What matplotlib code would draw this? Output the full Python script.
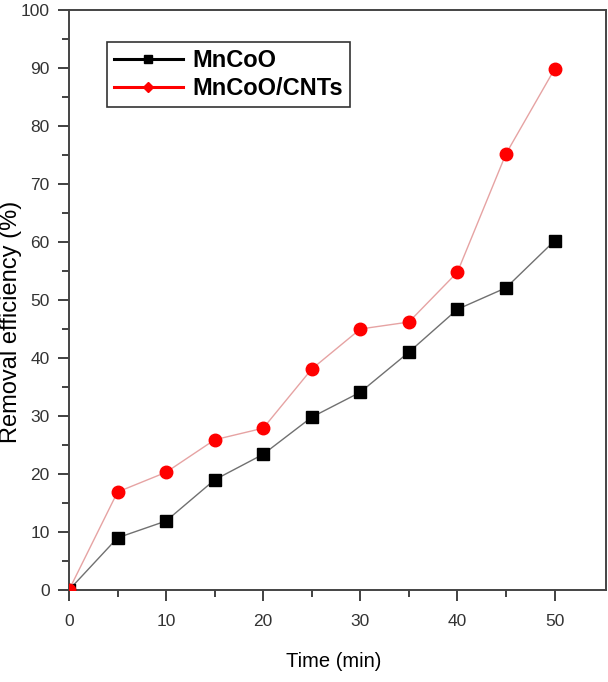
import matplotlib.pyplot as plt
from matplotlib.lines import Line2D

time_min = [0, 5, 10, 15, 20, 25, 30, 35, 40, 45, 50]
mncoo = [0, 9.0, 11.9, 19.0, 23.4, 29.8, 34.1, 41.0, 48.4, 52.1, 60.2]
mncoo_cnts = [0, 16.9, 20.3, 25.9, 27.9, 38.1, 45.0, 46.2, 54.8, 75.2, 89.8]

plt.rcParams['font.family'] = ['Liberation Sans', 'DejaVu Sans']

fig = plt.figure(figsize=(6.08, 6.82), dpi=100)
# axes box: x 69..606 px, y 10..590 px
ax = fig.add_axes([69 / 608, 92 / 682, 537 / 608, 580 / 682])

ax.plot(time_min, mncoo, color="#707070", lw=1.0, marker="s", ms=8,
        mfc="black", mec="black", zorder=3)
ax.plot(time_min, mncoo_cnts, color="#e6a3a3", lw=1.0, marker="o", ms=9,
        mfc="red", mec="red", zorder=3)

ax.set_xlim(0, 55.3)
ax.set_ylim(0, 100)
ax.set_xticks(range(0, 51, 10))
ax.set_xticks(range(0, 51, 5), minor=True)
ax.set_yticks(range(0, 101, 10))
ax.set_yticks(range(0, 101, 5), minor=True)
ax.tick_params(which="major", direction="out", length=8, width=1.3, labelsize=12.5,
               colors="#333333")
ax.tick_params(axis="x", which="major", pad=9)
ax.tick_params(axis="y", which="major", pad=6)
ax.tick_params(which="minor", direction="out", length=5, width=1.3, colors="#333333")
for sp in ax.spines.values():
    sp.set_linewidth(1.4)
    sp.set_color("#444444")

ax.set_xlabel("Time (min)", fontsize=14.5)
ax.xaxis.set_label_coords((334 - 69) / 537, -(652 - 590) / 580)
ax.set_ylabel("Removal efficiency (%)", fontsize=17)
ax.yaxis.set_label_coords(-(69 - 22) / 537, (590 - 322) / 580)

handles = [
    Line2D([], [], color="black", lw=2.2, marker="s", ms=6, mfc="black", mec="black"),
    Line2D([], [], color="red", lw=2.2, marker="D", ms=5.5, mfc="red", mec="red"),
]
leg = ax.legend(handles, ["MnCoO", "MnCoO/CNTs"], loc="upper left",
                bbox_to_anchor=((107 - 69) / 537, (590 - 42) / 580), frameon=True,
                fancybox=False, edgecolor="black", handlelength=2.9, borderpad=0.3,
                labelspacing=0.2, handletextpad=0.4, borderaxespad=0,
                prop={"weight": "bold", "size": 17})
leg.get_frame().set_linewidth(1.2)

plt.savefig("out.png", dpi=100)
